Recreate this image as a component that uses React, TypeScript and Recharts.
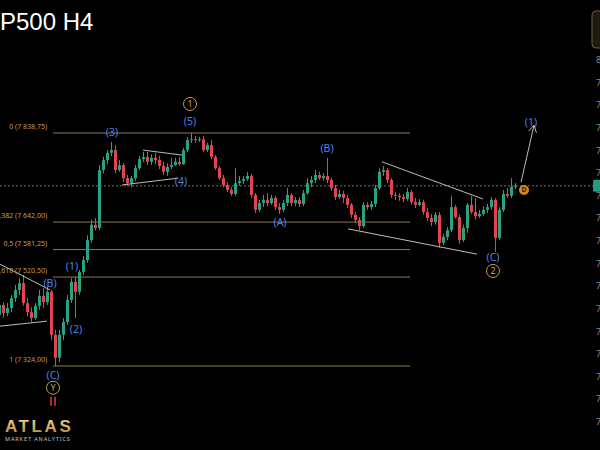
import React from "react";
import { Bar, ComposedChart, ReferenceDot, ReferenceLine, XAxis, YAxis } from "recharts";

const UP = "#26a383";
const DOWN = "#e2454f";
const BLUE = "#4d80e4";
const GOLD = "#caa04a";
const FIB = "#8d7857";

// 4h candles, left to right
const opens = [
  7437, 7459, 7441, 7452, 7474, 7492, 7507, 7463, 7443, 7430,
  7457, 7479, 7465, 7488, 7393, 7342, 7393, 7421, 7470, 7510,
  7488, 7532, 7558, 7602, 7636, 7629, 7757, 7779, 7795, 7801,
  7757, 7768, 7739, 7728, 7739, 7761, 7781, 7786, 7775, 7784,
  7779, 7766, 7753, 7764, 7768, 7775, 7770, 7801, 7823, 7825,
  7823, 7825, 7801, 7812, 7786, 7761, 7739, 7724, 7713, 7704,
  7728, 7733, 7737, 7744, 7702, 7669, 7684, 7691, 7684, 7695,
  7675, 7669, 7684, 7702, 7684, 7691, 7682, 7706, 7728, 7735,
  7746, 7739, 7744, 7735, 7717, 7697, 7704, 7695, 7680, 7658,
  7647, 7633, 7680, 7675, 7682, 7717, 7753, 7757, 7735, 7702,
  7700, 7697, 7693, 7708, 7686, 7680, 7686, 7664, 7651, 7642,
  7658, 7596, 7609, 7624, 7675, 7653, 7602, 7629, 7680, 7664,
  7655, 7660, 7669, 7675, 7691, 7607, 7669, 7704, 7700, 7720,
];
const closes = [
  7459, 7441, 7452, 7474, 7492, 7507, 7463, 7443, 7430, 7457,
  7479, 7465, 7488, 7393, 7342, 7393, 7421, 7470, 7510, 7488,
  7532, 7558, 7602, 7636, 7629, 7757, 7779, 7795, 7801, 7757,
  7768, 7739, 7728, 7739, 7761, 7781, 7786, 7775, 7784, 7779,
  7766, 7753, 7764, 7768, 7775, 7770, 7801, 7823, 7825, 7823,
  7825, 7801, 7812, 7786, 7761, 7739, 7724, 7713, 7704, 7728,
  7733, 7737, 7744, 7702, 7669, 7684, 7691, 7684, 7695, 7675,
  7669, 7684, 7702, 7684, 7691, 7682, 7706, 7728, 7735, 7746,
  7739, 7744, 7735, 7717, 7697, 7704, 7695, 7680, 7658, 7647,
  7633, 7680, 7675, 7682, 7717, 7753, 7757, 7735, 7702, 7700,
  7697, 7693, 7708, 7686, 7680, 7686, 7664, 7651, 7642, 7658,
  7596, 7609, 7624, 7675, 7653, 7602, 7629, 7680, 7664, 7655,
  7660, 7669, 7675, 7691, 7607, 7669, 7704, 7700, 7720, 7722,
];
const highs = [
  7470, 7465, 7463, 7481, 7503, 7518, 7525, 7474, 7454, 7463,
  7492, 7496, 7499, 7492, 7404, 7404, 7430, 7481, 7518, 7521,
  7536, 7567, 7613, 7647, 7651, 7768, 7786, 7801, 7819, 7812,
  7779, 7772, 7746, 7744, 7768, 7788, 7797, 7797, 7792, 7795,
  7788, 7775, 7772, 7784, 7784, 7786, 7806, 7830, 7839, 7832,
  7830, 7832, 7817, 7823, 7790, 7766, 7746, 7730, 7719, 7761,
  7744, 7744, 7753, 7748, 7706, 7691, 7702, 7706, 7702, 7700,
  7684, 7691, 7717, 7706, 7697, 7697, 7713, 7739, 7744, 7757,
  7753, 7750, 7784, 7739, 7724, 7713, 7711, 7702, 7684, 7664,
  7653, 7686, 7686, 7689, 7724, 7761, 7766, 7761, 7739, 7708,
  7706, 7704, 7717, 7713, 7695, 7693, 7691, 7673, 7660, 7664,
  7664, 7616, 7631, 7700, 7680, 7658, 7636, 7684, 7700, 7695,
  7669, 7677, 7682, 7697, 7695, 7675, 7713, 7717, 7739, 7728,
];
const lows = [
  7426, 7430, 7434, 7443, 7465, 7481, 7457, 7434, 7421, 7426,
  7448, 7452, 7459, 7381, 7324, 7333, 7381, 7415, 7463, 7430,
  7481, 7525, 7552, 7596, 7624, 7624, 7750, 7770, 7788, 7750,
  7753, 7730, 7722, 7719, 7733, 7757, 7775, 7768, 7768, 7770,
  7759, 7746, 7744, 7759, 7766, 7766, 7768, 7797, 7817, 7817,
  7819, 7797, 7797, 7781, 7757, 7735, 7719, 7708, 7700, 7700,
  7722, 7726, 7733, 7695, 7662, 7664, 7675, 7677, 7680, 7669,
  7660, 7664, 7677, 7677, 7677, 7675, 7677, 7702, 7719, 7728,
  7735, 7733, 7728, 7711, 7691, 7693, 7684, 7673, 7651, 7640,
  7624, 7629, 7669, 7669, 7675, 7713, 7744, 7728, 7695, 7691,
  7689, 7686, 7689, 7680, 7673, 7677, 7658, 7644, 7633, 7636,
  7585, 7591, 7602, 7620, 7649, 7594, 7598, 7618, 7660, 7647,
  7651, 7655, 7662, 7669, 7576, 7602, 7664, 7695, 7695, 7715,
];

const fibPrices = [7838.75, 7642, 7581.25, 7520.5, 7324];
const fibLabels = ["0 (7 838,75)", "0,382 (7 642,00)", "0,5 (7 581,25)", "0,618 (7 520,50)", "1 (7 324,00)"];
const fibStart = 13.25;
const fibEnd = 102.5;

const lastPrice = 7722;
const yTicks = [7200, 7250, 7300, 7350, 7400, 7450, 7500, 7550, 7600, 7650, 7700, 7750, 7800, 7850, 7900, 7950, 8000];

// trend lines: [x1, price1, x2, price2]
const trendLines = [
  [0, 7549, 12.5, 7492],
  [0, 7412, 11.75, 7423],
  [35.75, 7801, 45.5, 7790],
  [30.5, 7724, 44.5, 7739],
  [95.5, 7775, 120.75, 7693],
  [87, 7627, 119.25, 7571],
  [130.25, 7730, 133.5, 7856],
];

const waveLabels = [
  { x: 28, p: 7841, t: "(3)" },
  { x: 47.5, p: 7865, t: "(5)" },
  { x: 45.25, p: 7733, t: "(4)" },
  { x: 18, p: 7545, t: "(1)" },
  { x: 19, p: 7406, t: "(2)" },
  { x: 12.5, p: 7507, t: "(B)" },
  { x: 13.25, p: 7304, t: "(C)" },
  { x: 70, p: 7642, t: "(A)" },
  { x: 81.75, p: 7806, t: "(B)" },
  { x: 123.25, p: 7565, t: "(C)" },
  { x: 132.75, p: 7863, t: "(1)" },
];
const circled = [
  { x: 47.5, p: 7903, t: "1" },
  { x: 123.25, p: 7534, t: "2" },
  { x: 13.25, p: 7276, t: "Y" },
];

const candles = closes.map((c, i) => ({
  i,
  open: opens[i],
  close: c,
  high: highs[i],
  low: lows[i],
}));

const Candle = (props: any) => {
  const { x, y, width, height, payload } = props;
  if (!payload) return null;
  const { open, close, high, low } = payload;
  const top = Math.min(y, y + height);
  const h = Math.abs(height);
  const k = h / (high - low || 1);
  const color = close >= open ? UP : DOWN;
  const bodyTop = top + (high - Math.max(open, close)) * k;
  const bodyH = Math.max(1, Math.abs(open - close) * k);
  const cx = x + width / 2;
  return (
    <g>
      <line x1={cx} x2={cx} y1={top} y2={top + h} stroke={color} strokeWidth={1} />
      <rect x={x} y={bodyTop} width={width} height={bodyH} fill={color} />
    </g>
  );
};

const fmt = (v: number) => String(v).replace(/^(\d)/, "$1 ") + ",00";
const font = "'Noto Sans', Roboto, sans-serif";

export default function App() {
  return (
    <div style={{ position: "fixed", left: 0, top: 0, width: 600, height: 450, background: "#000", overflow: "hidden" }}>
      <ComposedChart width={600} height={450} data={candles} margin={{ top: 0, right: 0, bottom: 0, left: 0 }}>
        <XAxis type="number" dataKey="i" domain={[0, 150]} hide allowDataOverflow />
        <YAxis hide domain={[7138.4, 8132.6]} allowDataOverflow />
        <ReferenceLine y={lastPrice} stroke="#6e6e6e" strokeDasharray="2 2" />
        {yTicks.map((v) => (
          <ReferenceDot
            key={"y" + v}
            x={150}
            y={v}
            r={0}
            shape={(s: any) => (
              <text x={596} y={s.cy} dy={3} fill="#8a8a8a" fontSize={9} fontFamily={font}>
                {fmt(v)}
              </text>
            )}
          />
        ))}
        {fibPrices.map((p, k) => (
          <ReferenceLine
            key={"f" + k}
            segment={[{ x: fibStart, y: p }, { x: fibEnd, y: p }]}
            stroke={FIB}
            strokeWidth={1}
          />
        ))}
        {fibPrices.map((p, k) => (
          <ReferenceDot
            key={"fl" + k}
            x={fibStart}
            y={p}
            r={0}
            shape={(s: any) => (
              <text x={s.cx - 6} y={s.cy - 4} textAnchor="end" fill="#c89b54" fontSize={7} fontFamily={font}>
                {fibLabels[k]}
              </text>
            )}
          />
        ))}
        {trendLines.map((t, k) => (
          <ReferenceLine
            key={"t" + k}
            segment={[{ x: t[0], y: t[1] }, { x: t[2], y: t[3] }]}
            stroke="#bdbdbd"
            strokeWidth={1}
          />
        ))}
        <ReferenceLine segment={[{ x: 12.75, y: 7256 }, { x: 12.75, y: 7236 }]} stroke="#d8404a" strokeWidth={1.5} />
        <ReferenceLine segment={[{ x: 13.75, y: 7256 }, { x: 13.75, y: 7236 }]} stroke="#d8404a" strokeWidth={1.5} />
        <Bar dataKey={(d: any) => [d.low, d.high]} barSize={3} shape={Candle} isAnimationActive={false} />
        <ReferenceDot
          x={133.5}
          y={7856}
          r={0}
          shape={(s: any) => (
            <path
              d={`M${s.cx - 5.4},${s.cy + 5.9} L${s.cx},${s.cy} L${s.cx + 2.4},${s.cy + 7.6}`}
              stroke="#bdbdbd"
              fill="none"
              strokeWidth={1}
            />
          )}
        />
        {waveLabels.map((l, k) => (
          <ReferenceDot
            key={"w" + k}
            x={l.x}
            y={l.p}
            r={0}
            shape={(s: any) => (
              <text x={s.cx} y={s.cy} dy={4} textAnchor="middle" fill={BLUE} fontSize={10.5} fontFamily={font}>
                {l.t}
              </text>
            )}
          />
        ))}
        {circled.map((l, k) => (
          <ReferenceDot
            key={"c" + k}
            x={l.x}
            y={l.p}
            r={0}
            shape={(s: any) => (
              <g>
                <circle cx={s.cx} cy={s.cy} r={6.5} stroke={GOLD} fill="#000" strokeWidth={1} />
                <text x={s.cx} y={s.cy} dy={3.2} textAnchor="middle" fill={GOLD} fontSize={9} fontFamily={font}>
                  {l.t}
                </text>
              </g>
            )}
          />
        ))}
        <ReferenceDot
          x={131}
          y={7713}
          r={0}
          shape={(s: any) => (
            <g>
              <circle cx={s.cx} cy={s.cy} r={5} fill="#d4861f" />
              <text x={s.cx} y={s.cy} dy={2.5} textAnchor="middle" fill="#3b2300" fontSize={7} fontWeight={700} fontFamily={font}>
                D
              </text>
            </g>
          )}
        />
        <ReferenceDot
          x={150}
          y={lastPrice}
          r={0}
          shape={(s: any) => <rect x={593} y={s.cy - 6} width={12} height={12} rx={1.5} fill="#1f9e80" />}
        />
      </ComposedChart>
      <svg width={600} height={450} style={{ position: "absolute", left: 0, top: 0, pointerEvents: "none" }}>
        <defs>
          <linearGradient id="gold" x1="0" y1="0" x2="0" y2="1">
            <stop offset="0" stopColor="#f4d88e" />
            <stop offset="1" stopColor="#b7862d" />
          </linearGradient>
        </defs>
        <text x={0} y={30} fill="#fff" fontSize={24} fontFamily="'Liberation Sans', Arial, sans-serif">
          P500 H4
        </text>
        <rect x={592} y={11} width={20} height={37} rx={4} fill="#201a10" stroke="#6b5a3a" />
        <text x={5} y={432} fill="url(#gold)" fontSize={17} fontWeight={700} letterSpacing={2.6} fontFamily="'Liberation Sans', Arial, sans-serif">
          ATLAS
        </text>
        <text x={5} y={441} fill="#cfc6b2" fontSize={5.5} letterSpacing={0.9} fontFamily={font}>
          MARKET ANALYTICS
        </text>
      </svg>
    </div>
  );
}
